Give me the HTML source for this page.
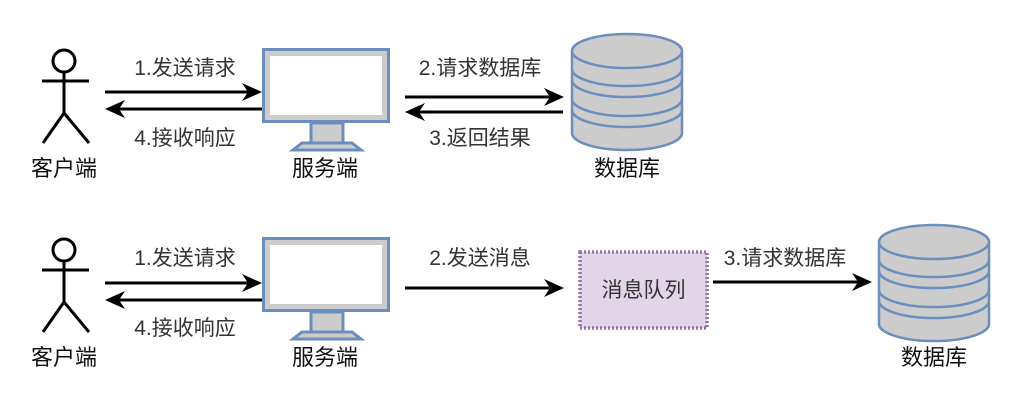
<!DOCTYPE html>
<html><head><meta charset="utf-8"><style>
html,body{margin:0;padding:0;background:#fff;}
svg{display:block;}
text{font-family:"Liberation Sans","Noto Sans CJK SC",sans-serif;font-size:21px;fill:#333;}
.b{fill:#111;font-size:22px;}
</style></head><body>
<svg width="1024" height="406" viewBox="0 0 1024 406" xmlns="http://www.w3.org/2000/svg">
<defs>
<g id="actor" stroke="#000" stroke-width="3" fill="#fff">
<circle cx="64" cy="61" r="11"/>
<line x1="64" y1="72" x2="64" y2="113" fill="none"/>
<line x1="42" y1="81" x2="89" y2="81"/>
<polyline points="43,143 64,113 89,143" fill="none"/>
</g>
<g id="mon">
<rect x="263.5" y="49.5" width="125" height="72" fill="#ccc" stroke="#6c8ebf" stroke-width="3"/>
<rect x="270" y="56" width="112" height="59" fill="#fff"/>
<rect x="311" y="123" width="32" height="20" fill="#ccc" stroke="#6c8ebf" stroke-width="3"/>
<path d="M302,143 L352,143 L361,150 L293,150 Z" fill="#ccc" stroke="#6c8ebf" stroke-width="3"/>
</g>
<g id="db" fill="#ccc" stroke="#6c8ebf" stroke-width="2.5">
<path d="M572,51 L572,133 A55,17 0 0 0 682,133 L682,51"/>
<ellipse cx="627" cy="51" rx="55" ry="17"/>
<path d="M572,69 A55,17 0 0 0 682,69" fill="none"/>
<path d="M572,80 A55,17 0 0 0 682,80" fill="none"/>
<path d="M572,99 A55,17 0 0 0 682,99" fill="none"/>
<path d="M572,110 A55,17 0 0 0 682,110" fill="none"/>
</g>
</defs>

<use href="#actor"/>
<text x="64" y="176" text-anchor="middle" class="b">客户端</text>
<use href="#mon"/>
<text x="325" y="176" text-anchor="middle" class="b">服务端</text>
<use href="#db"/>
<text x="627" y="176" text-anchor="middle" class="b">数据库</text>

<g stroke="#000" stroke-width="3">
<line x1="105" y1="92" x2="250" y2="92"/>
<line x1="117" y1="109" x2="262" y2="109"/>
<line x1="405" y1="97" x2="552" y2="97"/>
<line x1="417" y1="112" x2="563" y2="112"/>
<line x1="105" y1="283" x2="250" y2="283"/>
<line x1="117" y1="300" x2="262" y2="300"/>
<line x1="405" y1="288" x2="552" y2="288"/>
<line x1="713" y1="282" x2="860" y2="282"/>
</g>
<g fill="#000">
<path d="M262,92 L242,83 L248,92 L242,101 Z"/>
<path d="M105,109 L125,100 L119,109 L125,118 Z"/>
<path d="M564,97 L544,88 L550,97 L544,106 Z"/>
<path d="M405,112 L425,103 L419,112 L425,121 Z"/>
<path d="M262,283 L242,274 L248,283 L242,292 Z"/>
<path d="M105,300 L125,291 L119,300 L125,309 Z"/>
<path d="M564,288 L544,279 L550,288 L544,297 Z"/>
<path d="M872,282 L852,273 L858,282 L852,291 Z"/>
</g>
<text x="185" y="75" text-anchor="middle">1.发送请求</text>
<text x="185" y="145" text-anchor="middle">4.接收响应</text>
<text x="480" y="75" text-anchor="middle">2.请求数据库</text>
<text x="480" y="145" text-anchor="middle">3.返回结果</text>

<use href="#actor" transform="translate(0,189)"/>
<text x="64" y="365" text-anchor="middle" class="b">客户端</text>
<use href="#mon" transform="translate(0,189)"/>
<text x="325" y="365" text-anchor="middle" class="b">服务端</text>
<text x="185" y="265" text-anchor="middle">1.发送请求</text>
<text x="185" y="335" text-anchor="middle">4.接收响应</text>
<text x="480" y="265" text-anchor="middle">2.发送消息</text>
<text x="785" y="265" text-anchor="middle">3.请求数据库</text>

<rect x="580" y="252" width="127" height="76" fill="#e1d5e7" stroke="#9673a6" stroke-width="3.5" stroke-dasharray="2 2"/>
<text x="643.5" y="297" text-anchor="middle">消息队列</text>

<use href="#db" transform="translate(307,191)"/>
<text x="934" y="365" text-anchor="middle" class="b">数据库</text>
</svg>
</body></html>
